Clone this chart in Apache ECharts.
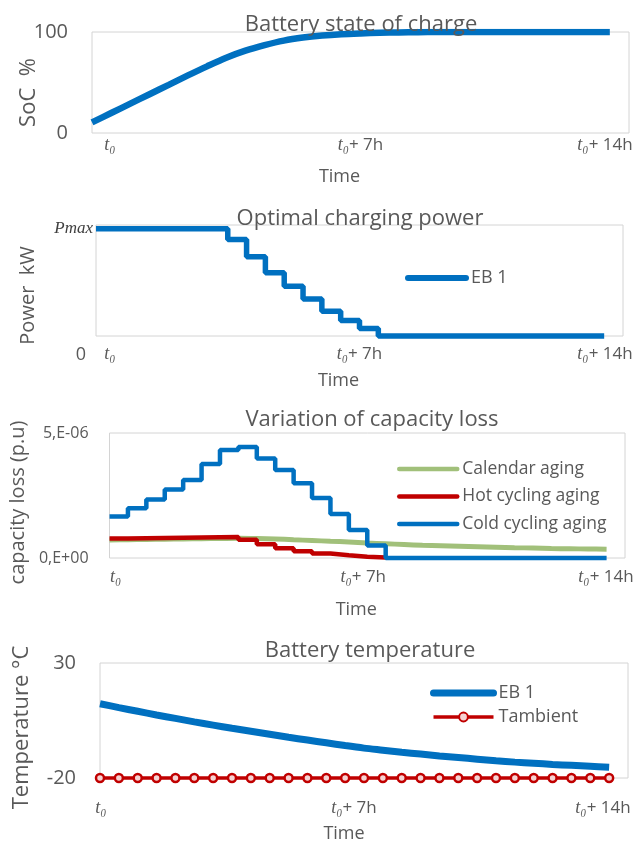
<!DOCTYPE html>
<html><head><meta charset="utf-8">
<script src="https://cdn.jsdelivr.net/npm/echarts@6/dist/echarts.min.js"></script>
<style>html,body{margin:0;padding:0;background:#fff}#c{width:642px;height:844px}</style>
</head><body><div id="c"></div>
<script>
// ---- data ----
const timeHours = [0,0.5,1,1.5,2,2.5,3,3.5,4,4.5,5,5.5,6,6.5,7,7.5,8,8.5,9,9.5,10,10.5,11,11.5,12,12.5,13,13.5];
const xTickValues = [0, 7, 14];
const xTickSuffix = ['', '+ 7h', '+ 14h'];   // appended to italic t0
const socPercent = [10.5,19.8,29.1,38.4,47.7,57,66,74.5,81.5,87,91.5,94.5,96.5,97.8,98.6,99.2,99.6,99.8,100,100,100,100,100,100,100,100,100,100];
const chargingPower = [100,100,100,100,100,100,100,90,74,59,46.5,34.5,23,14.5,7,0,0,0,0,0,0,0,0,0,0,0,0,0]; // % of Pmax
const calendarAging = [0.72,0.73,0.74,0.75,0.76,0.77,0.78,0.79,0.78,0.76,0.73,0.70,0.67,0.64,0.60,0.57,0.54,0.51,0.49,0.47,0.45,0.43,0.41,0.40,0.38,0.37,0.36,0.35]; // x1e-6 p.u
const hotCyclingAging = [0.78,0.79,0.80,0.81,0.82,0.83,0.84,0.73,0.55,0.39,0.27,0.18,0.11,0.05,0.02,0];
const coldCyclingAging = [1.66,1.99,2.34,2.74,3.12,3.76,4.32,4.44,3.98,3.52,2.99,2.40,1.76,1.12,0.50,0,0,0,0,0,0,0,0,0,0,0,0,0];
const batteryTemp = [12.3,10.6,9.0,7.4,5.9,4.4,3.0,1.6,0.3,-1.0,-2.3,-3.5,-4.7,-5.9,-7.0,-7.9,-8.8,-9.6,-10.4,-11.1,-11.8,-12.5,-13.1,-13.6,-14.1,-14.5,-14.9,-15.3];
const ambientTemp = [-20,-20,-20,-20,-20,-20,-20,-20,-20,-20,-20,-20,-20,-20,-20,-20,-20,-20,-20,-20,-20,-20,-20,-20,-20,-20,-20,-20];
const capTickValues = [0, 5];
const capTickLabels = ['0,E+00', '5,E-06'];

// ---- styling ----
const FONT = 'Open Sans';
const GREY = '#595959';
const BLUE = '#0070C0', RED = '#C00000', GREEN = '#A1C07A';

const pairs = (arr) => arr.map((v, i) => [timeHours[i], v]);

function xAxis(gi, shifts, margin, nameGap, nameShift) {
  const tBase = {fontFamily: 'Liberation Serif', fontStyle: 'italic', fontSize: 18, color: GREY};
  const nBase = {fontFamily: FONT, fontSize: 17, color: GREY};
  const rich = {};
  shifts.forEach((s, i) => {
    rich['t' + i] = Object.assign({}, tBase, {padding: [0, 0, 0, s > 0 ? 2 * s : 0]});
    rich['n' + i] = Object.assign({}, nBase, {padding: [0, s < 0 ? -2 * s : 0, 0, 0]});
  });
  return {
    type: 'value', gridIndex: gi, min: 0, max: 14,
    axisLine: {show: false}, axisTick: {show: false}, splitLine: {show: false},
    axisLabel: {
      customValues: xTickValues, margin: margin, rich: rich,
      formatter: (v) => {
        const i = xTickValues.indexOf(v);
        const suf = xTickSuffix[i];
        if (!suf) return '{t' + i + '|t₀}';
        return '{t' + i + '|t₀}{n' + i + '|' + suf + '}';
      }
    },
    name: 'Time', nameLocation: 'middle', nameGap: nameGap,
    nameTextStyle: {fontFamily: FONT, fontSize: 18, color: GREY,
      padding: [0, nameShift < 0 ? -2 * nameShift : 0, 0, nameShift > 0 ? 2 * nameShift : 0]}
  };
}

const titleStyle = {fontFamily: FONT, fontSize: 22, fontWeight: 'normal', color: GREY};
const noSymbol = {opacity: 0};

const option = {
  animation: false,
  backgroundColor: '#fff',
  title: [
    {text: 'Battery state of charge', left: 356, top: 9, textAlign: 'center', textStyle: titleStyle},
    {text: 'Optimal charging power', left: 355, top: 203, textAlign: 'center', textStyle: titleStyle},
    {text: 'Variation of capacity loss', left: 367, top: 404, textAlign: 'center', textStyle: titleStyle},
    {text: 'Battery temperature', left: 365, top: 635, textAlign: 'center', textStyle: titleStyle}
  ],
  grid: [
    {left: 92, top: 32, right: 13, height: 101, show: true, borderColor: '#D4D4D4', borderWidth: 1},
    {left: 96, top: 225, right: 19, height: 111, show: true, borderColor: '#D4D4D4', borderWidth: 1},
    {left: 103, top: 433, right: 17, height: 125, show: true, borderColor: '#D4D4D4', borderWidth: 1},
    {left: 100, top: 663, right: 14, height: 118, show: true, borderColor: '#D4D4D4', borderWidth: 1}
  ],
  xAxis: [
    xAxis(0, [18, 0, -24], 3, 35, -21),
    xAxis(1, [14, 0, -18], 9, 36, -21),
    xAxis(2, [6, -4, -19], 10, 43, -11),
    xAxis(3, [1, -10, -25], 21, 47, -20)
  ],
  yAxis: [
    {type: 'value', gridIndex: 0, min: 0, max: 100, interval: 100,
      axisLine: {show: false}, axisTick: {show: false}, splitLine: {show: false},
      axisLabel: {fontFamily: FONT, fontSize: 20, color: GREY, margin: 24},
      name: 'SoC  %', nameLocation: 'middle', nameGap: 52, nameMoveOverlap: false,
      nameTextStyle: {fontFamily: FONT, fontSize: 22, color: GREY, padding: [0, 20, 0, 0]}},
    {type: 'value', gridIndex: 1, min: 0, max: 103.6,
      axisLine: {show: false}, axisTick: {show: false}, splitLine: {show: false},
      axisLabel: {customValues: [0, 100], margin: 3,
        formatter: (v) => v === 100 ? '{pm|Pmax}' : '{z|0}',
        rich: {pm: {fontFamily: 'Liberation Serif', fontStyle: 'italic', fontSize: 17, color: '#404040'},
               z: {fontFamily: FONT, fontSize: 18, color: GREY, padding: [38, 7, 0, 0]}}},
      name: 'Power  kW', nameLocation: 'middle', nameGap: 58,
      nameTextStyle: {fontFamily: FONT, fontSize: 20, color: GREY, padding: [0, 30, 0, 0]}},
    {type: 'value', gridIndex: 2, min: 0, max: 5,
      axisLine: {show: false}, axisTick: {show: false}, splitLine: {show: false},
      axisLabel: {customValues: capTickValues, margin: 21, fontFamily: FONT, fontSize: 16, color: GREY,
        formatter: (v) => capTickLabels[capTickValues.indexOf(v)]},
      name: 'capacity loss (p.u)', nameLocation: 'middle', nameGap: 76,
      nameTextStyle: {fontFamily: FONT, fontSize: 20, color: GREY, padding: [0, 14, 0, 0]}},
    {type: 'value', gridIndex: 3, min: -20, max: 30, interval: 50,
      axisLine: {show: false}, axisTick: {show: false}, splitLine: {show: false},
      axisLabel: {fontFamily: FONT, fontSize: 20, color: GREY, margin: 24},
      name: 'Temperature °C', nameLocation: 'middle', nameGap: 67,
      nameTextStyle: {fontFamily: FONT, fontSize: 22, color: GREY, padding: [0, 14, 0, 0]}}
  ],
  legend: [
    {data: [{name: 'EB 1', itemStyle: noSymbol, lineStyle: {width: 6, cap: 'round'}}],
      left: 400, top: 264, orient: 'vertical', itemWidth: 58, itemHeight: 14,
      textStyle: {fontFamily: FONT, fontSize: 18, color: GREY}},
    {data: [
        {name: 'Calendar aging', itemStyle: noSymbol, lineStyle: {width: 4.5, cap: 'round'}},
        {name: 'Hot cycling aging', itemStyle: noSymbol, lineStyle: {width: 4.5, cap: 'round'}},
        {name: 'Cold cycling aging', itemStyle: noSymbol, lineStyle: {width: 4.5, cap: 'round'}}],
      left: 392, top: 455, orient: 'vertical',
      itemWidth: 58, itemHeight: 14, itemGap: 9.5, textStyle: {fontFamily: FONT, fontSize: 17.5, color: GREY}},
    {data: [
        {name: 'EB 1', itemStyle: noSymbol, lineStyle: {width: 7, cap: 'round'}},
        {name: 'Tambient', lineStyle: {width: 3.5}}],
      left: 425, top: 679, orient: 'vertical', itemWidth: 60, itemHeight: 11, itemGap: 6,
      textStyle: {fontFamily: FONT, fontSize: 18, color: GREY}}
  ],
  series: [
    {name: 'SoC', type: 'line', xAxisIndex: 0, yAxisIndex: 0, data: pairs(socPercent), smooth: 0.3,
      symbol: 'none', lineStyle: {width: 6.5, color: BLUE}, itemStyle: {color: BLUE}},
    {name: 'EB 1', type: 'line', xAxisIndex: 1, yAxisIndex: 1, data: pairs(chargingPower), step: 'end',
      symbol: 'none', lineStyle: {width: 5.5, color: BLUE}, itemStyle: {color: BLUE}, clip: false},
    {name: 'Calendar aging', type: 'line', xAxisIndex: 2, yAxisIndex: 2, data: pairs(calendarAging), smooth: 0.3,
      symbol: 'none', lineStyle: {width: 5, color: GREEN}, itemStyle: {color: GREEN}},
    {name: 'Hot cycling aging', type: 'line', xAxisIndex: 2, yAxisIndex: 2, data: pairs(hotCyclingAging), step: 'end',
      symbol: 'none', lineStyle: {width: 4.5, color: RED}, itemStyle: {color: RED}, clip: false},
    {name: 'Cold cycling aging', type: 'line', xAxisIndex: 2, yAxisIndex: 2, data: pairs(coldCyclingAging), step: 'end',
      symbol: 'none', lineStyle: {width: 4.5, color: BLUE}, itemStyle: {color: BLUE}, clip: false},
    {name: 'EB 1', type: 'line', xAxisIndex: 3, yAxisIndex: 3, data: pairs(batteryTemp), smooth: 0.3,
      symbol: 'none', lineStyle: {width: 7, color: BLUE}, itemStyle: {color: BLUE}},
    {name: 'Tambient', type: 'line', xAxisIndex: 3, yAxisIndex: 3, data: pairs(ambientTemp),
      symbol: 'circle', symbolSize: 8, lineStyle: {width: 3.5, color: RED},
      itemStyle: {color: '#F6D3D3', borderColor: RED, borderWidth: 2.5}, clip: false}
  ]
};
const chart = echarts.init(document.getElementById('c'), null, {renderer: 'canvas'});
chart.setOption(option);
</script></body></html>
